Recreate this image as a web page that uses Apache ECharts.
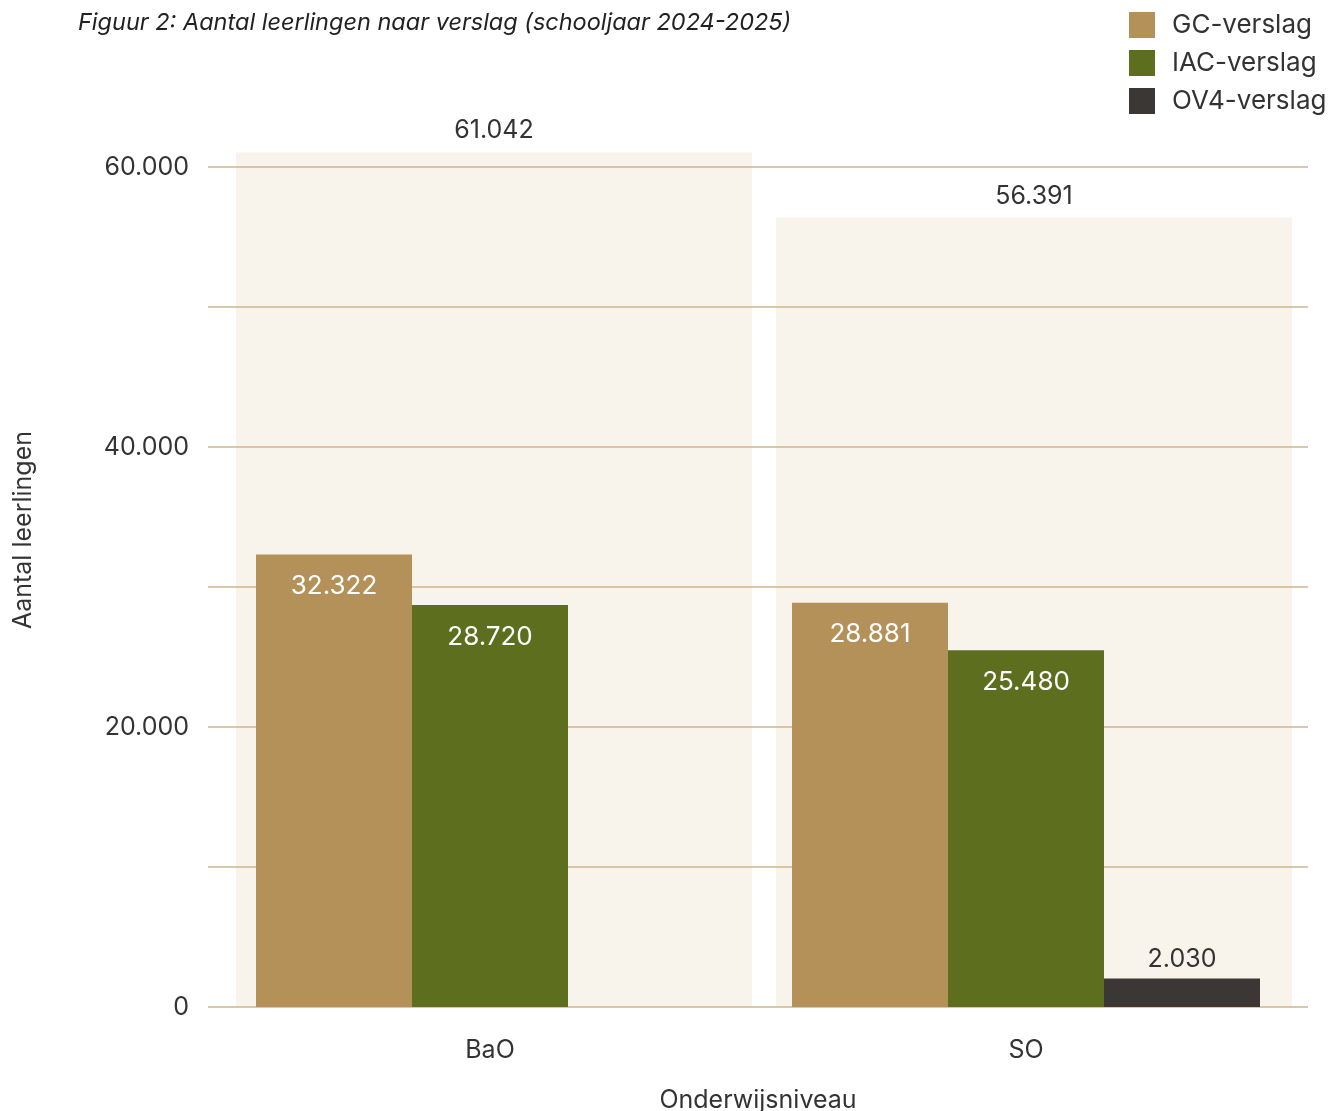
<!DOCTYPE html>
<html>
<head>
<meta charset="utf-8">
<script src="https://cdn.jsdelivr.net/npm/echarts@6/dist/echarts.min.js"></script>
<style>html,body{margin:0;padding:0;background:#fff;}#chart{width:1337px;height:1111px;}</style>
</head>
<body>
<div id="chart"></div>
<script>
var categories = ['BaO', 'SO'];
var seriesNames = ['GC-verslag', 'IAC-verslag', 'OV4-verslag'];
var gcValues = [32322, 28881];
var iacValues = [28720, 25480];
var ov4Values = [null, 2030];
var totals = [61042, 56391];
var yTicks = [0, 10000, 20000, 30000, 40000, 50000, 60000];
var labeledTicks = [0, 20000, 40000, 60000];

var FONT = 'Inter';
var TXT = '#333333';
var Y_MIN = 0, Y_MAX = 62000, Y_STEP = 10000;
function fmt(v) { return v == null ? '' : v.toLocaleString('nl-NL'); }

var chart = echarts.init(document.getElementById('chart'), null, {renderer: 'canvas'});
var insideLabel = {
  show: true, position: 'insideTop', distance: 19, color: '#FFFFFF',
  fontFamily: FONT, fontSize: 26, formatter: function (p) { return fmt(p.value); }
};
var TOP = 139, BOTTOM = 104;
chart.setOption({
  animation: false,
  textStyle: {fontFamily: FONT},
  title: {
    text: 'Figuur 2: Aantal leerlingen naar verslag (schooljaar 2024-2025)',
    left: 73, top: 6,
    textStyle: {fontFamily: FONT, fontStyle: 'italic', fontWeight: 'normal', fontSize: 23.5, color: '#222222'}
  },
  legend: {
    orient: 'vertical', left: 1124, top: 7,
    itemWidth: 26, itemHeight: 26, itemGap: 12, icon: 'rect',
    data: seriesNames,
    textStyle: {fontFamily: FONT, fontSize: 26, color: TXT, padding: [0, 0, 0, 12]}
  },
  grid: [
    {left: 208, right: 29, top: TOP, bottom: BOTTOM, outerBoundsMode: 'none', containLabel: false},
    {left: 222, right: 43, top: TOP, bottom: BOTTOM, outerBoundsMode: 'none', containLabel: false},
    {left: 224, right: 33, top: TOP, bottom: BOTTOM, outerBoundsMode: 'none', containLabel: false}
  ],
  xAxis: [{
    gridIndex: 0, type: 'category', data: categories,
    axisLine: {show: false}, axisTick: {show: false}, axisLabel: {show: false},
    name: 'Onderwijsniveau', nameLocation: 'middle', nameGap: 81,
    nameTextStyle: {fontFamily: FONT, fontSize: 25, color: TXT}
  }, {
    gridIndex: 1, type: 'category', data: categories,
    axisLine: {show: false}, axisTick: {show: false},
    axisLabel: {margin: 31, fontFamily: FONT, fontSize: 25, color: TXT}
  }, {
    gridIndex: 2, type: 'category', data: categories, show: false
  }],
  yAxis: [{
    gridIndex: 0, type: 'value', min: Y_MIN, max: Y_MAX, interval: Y_STEP,
    axisLine: {show: false}, axisTick: {show: false},
    splitLine: {show: true, showMaxLine: false, lineStyle: {color: '#D2B58D', width: 1.5}},
    axisLabel: {
      margin: 19, fontFamily: FONT, fontSize: 25, color: TXT,
      formatter: function (v) { return labeledTicks.indexOf(v) >= 0 ? fmt(v) : ''; }
    },
    name: 'Aantal leerlingen', nameLocation: 'middle', nameGap: 172, nameRotate: 90,
    nameTextStyle: {fontFamily: FONT, fontSize: 25, color: TXT, padding: [0, 0, 0, 86]}
  }, {
    gridIndex: 1, type: 'value', min: Y_MIN, max: Y_MAX, interval: Y_STEP, show: false,
    splitLine: {show: false}
  }, {
    gridIndex: 2, type: 'value', min: Y_MIN, max: Y_MAX, interval: Y_STEP, show: false,
    splitLine: {show: false}
  }],
  series: [{
    name: 'Totaal', type: 'bar', xAxisIndex: 2, yAxisIndex: 2, data: totals, barWidth: 516, z: -1,
    itemStyle: {color: '#F8F4EC'}, silent: true,
    label: {show: true, position: 'top', distance: 9, color: TXT, fontFamily: FONT, fontSize: 25,
      formatter: function (p) { return fmt(p.value); }}
  }, {
    name: seriesNames[0], type: 'bar', xAxisIndex: 1, yAxisIndex: 1, data: gcValues, barWidth: 156, barGap: '0%',
    itemStyle: {color: '#B39158'}, label: insideLabel
  }, {
    name: seriesNames[1], type: 'bar', xAxisIndex: 1, yAxisIndex: 1, data: iacValues, barWidth: 156, barGap: '0%',
    itemStyle: {color: '#5D6F1E'}, label: insideLabel
  }, {
    name: seriesNames[2], type: 'bar', xAxisIndex: 1, yAxisIndex: 1, data: ov4Values, barWidth: 156, barGap: '0%',
    itemStyle: {color: '#3B3735'},
    label: {show: true, position: 'top', distance: 7, color: TXT, fontFamily: FONT, fontSize: 25,
      formatter: function (p) { return fmt(p.value); }}
  }]
});
</script>
</body>
</html>
